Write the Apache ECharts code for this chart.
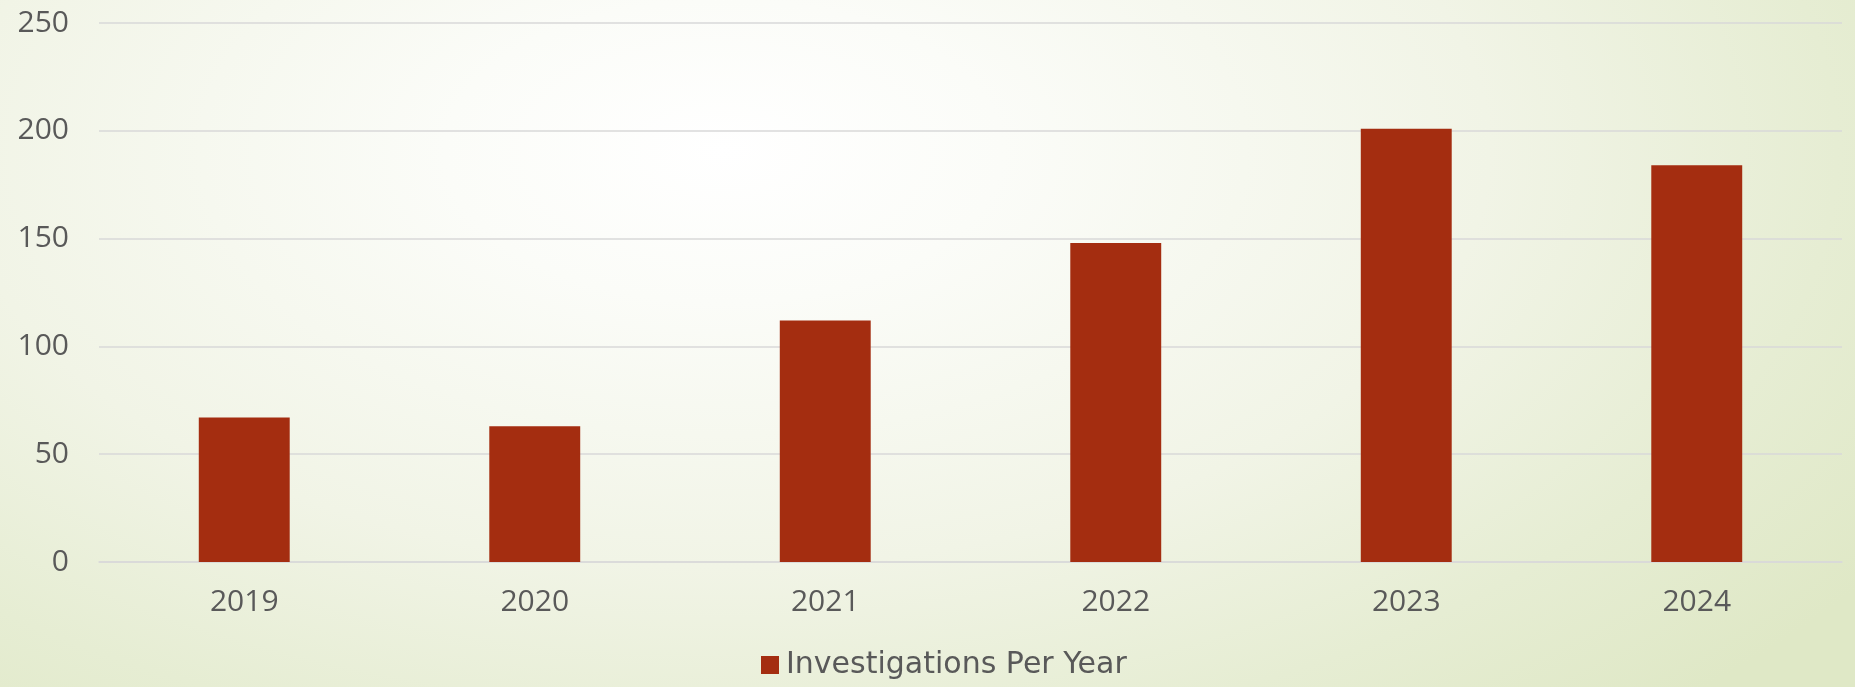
<!DOCTYPE html>
<html>
<head>
<meta charset="utf-8">
<script src="https://cdn.jsdelivr.net/npm/echarts@6/dist/echarts.min.js"></script>
<style>
html,body{margin:0;padding:0;width:1855px;height:687px;overflow:hidden;}
#chart{width:1855px;height:687px;
background: radial-gradient(ellipse 75% 110% at 39% 22%, #ffffff 0%, #fbfcf8 20%, #f1f4e6 55%, #e6edd3 80%, #dfe8c6 100%);}
</style>
</head>
<body>
<div id="chart"></div>
<script>
const categories = ['2019', '2020', '2021', '2022', '2023', '2024'];
const investigations = [67, 63, 112, 148, 201, 184];
const seriesName = 'Investigations Per Year';
const yTicks = { min: 0, max: 250, interval: 50 };

const chart = echarts.init(document.getElementById('chart'));
const textColor = '#595959';
const fontFamily = '"Open Sans", "Noto Sans", sans-serif';
chart.setOption({
  backgroundColor: 'transparent',
  animation: false,
  grid: { left: 99, right: 13, top: 23, bottom: 125 },
  legend: {
    data: [seriesName],
    left: 756,
    top: 645,
    itemWidth: 18,
    itemHeight: 18,
    icon: 'rect',
    textStyle: { color: textColor, fontSize: 30, fontFamily: '"DejaVu Sans", sans-serif', padding: [0, 0, 0, 2] }
  },
  xAxis: {
    type: 'category',
    data: categories,
    axisLine: { show: true, lineStyle: { color: '#d9d9d9', width: 1.5 } },
    axisTick: { show: false },
    axisLabel: { color: textColor, fontSize: 30, fontFamily: fontFamily, margin: 25 }
  },
  yAxis: {
    type: 'value',
    min: yTicks.min, max: yTicks.max, interval: yTicks.interval,
    axisLine: { show: false },
    axisTick: { show: false },
    splitLine: { lineStyle: { color: '#d9d9d9', width: 1.5 } },
    axisLabel: { color: textColor, fontSize: 30, fontFamily: fontFamily, margin: 30 }
  },
  series: [{
    name: seriesName,
    type: 'bar',
    data: investigations,
    barWidth: '31.3%',
    itemStyle: { color: '#A42D10' }
  }]
});
</script>
</body>
</html>
